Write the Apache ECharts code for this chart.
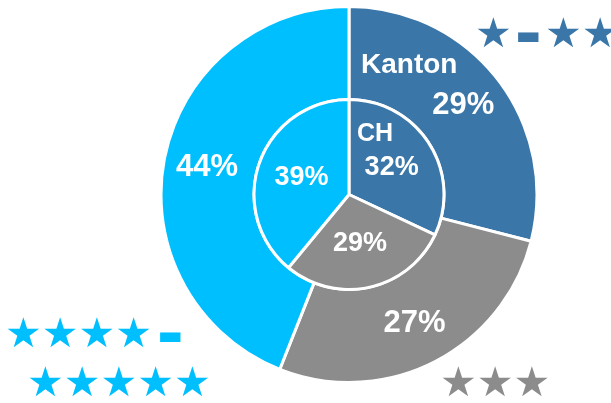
<!DOCTYPE html>
<html>
<head>
<meta charset="utf-8">
<script src="https://cdn.jsdelivr.net/npm/echarts@6/dist/echarts.min.js"></script>
<style>
html,body{margin:0;padding:0;background:#fff;}
#c{width:611px;height:403px;}
</style>
</head>
<body>
<div id="c"></div>
<script>
// Data
const categories = ['★ – ★★', '★★★', '★★★★ – ★★★★★'];
const kantonValues = [29, 27, 44];
const chValues = [32, 29, 39];
const ringNames = ['Kanton', 'CH'];

const colors = ['#3A76A8', '#8C8C8C', '#00BFFF'];

const chart = echarts.init(document.getElementById('c'), null, {renderer: 'canvas'});
const cx = 349, cy = 194.5;
const labelFont = 'Liberation Sans, Arial, sans-serif';
const starFont = 'DejaVu Sans';

function mk(values) {
  return values.map((v, i) => ({name: categories[i], value: v, itemStyle: {color: colors[i]}}));
}

const option = {
  animation: false,
  series: [
    {
      type: 'pie',
      center: [cx, cy],
      radius: [95, 188],
      startAngle: 90,
      clockwise: true,
      silent: true,
      itemStyle: {borderColor: '#fff', borderWidth: 3},
      label: {
        position: 'inside',
        formatter: '{c}%',
        color: '#fff',
        fontFamily: labelFont,
        fontWeight: 'bold',
        fontSize: 31
      },
      labelLine: {show: false},
      data: mk(kantonValues)
    },
    {
      type: 'pie',
      center: [cx, cy],
      radius: [0, 95],
      startAngle: 90,
      clockwise: true,
      silent: true,
      itemStyle: {borderColor: '#fff', borderWidth: 3},
      label: {
        position: 'inside',
        formatter: '{c}%',
        color: '#fff',
        fontFamily: labelFont,
        fontWeight: 'bold',
        fontSize: 27
      },
      labelLine: {show: false},
      data: mk(chValues)
    }
  ],
  graphic: [
    {type: 'text', left: 361, top: 51, z: 100, style: {text: ringNames[0], fill: '#fff', font: 'bold 28px ' + labelFont}},
    {type: 'text', left: 357, top: 122, z: 100, style: {text: ringNames[1], fill: '#fff', font: 'bold 25px ' + labelFont}},
    // top right
    {type: 'text', x: 475, y: 36, style: {text: '★', fill: colors[0], font: '41px ' + starFont, verticalAlign: 'middle'}},
    {type: 'text', x: 515, y: 36, style: {text: '-', fill: colors[0], font: 'bold 80px ' + labelFont, verticalAlign: 'middle'}},
    {type: 'text', x: 545, y: 36, style: {text: '★★', fill: colors[0], font: '41px ' + starFont, verticalAlign: 'middle'}},
    // bottom left
    {type: 'text', x: 5, y: 336, style: {text: '★★★★', fill: colors[2], font: '41px ' + starFont, verticalAlign: 'middle'}},
    {type: 'text', x: 157, y: 336, style: {text: '-', fill: colors[2], font: 'bold 80px ' + labelFont, verticalAlign: 'middle'}},
    {type: 'text', x: 27, y: 385, style: {text: '★★★★★', fill: colors[2], font: '41px ' + starFont, verticalAlign: 'middle'}},
    // bottom right
    {type: 'text', x: 440, y: 385, style: {text: '★★★', fill: colors[1], font: '41px ' + starFont, verticalAlign: 'middle'}}
  ]
};
chart.setOption(option);
</script>
</body>
</html>
